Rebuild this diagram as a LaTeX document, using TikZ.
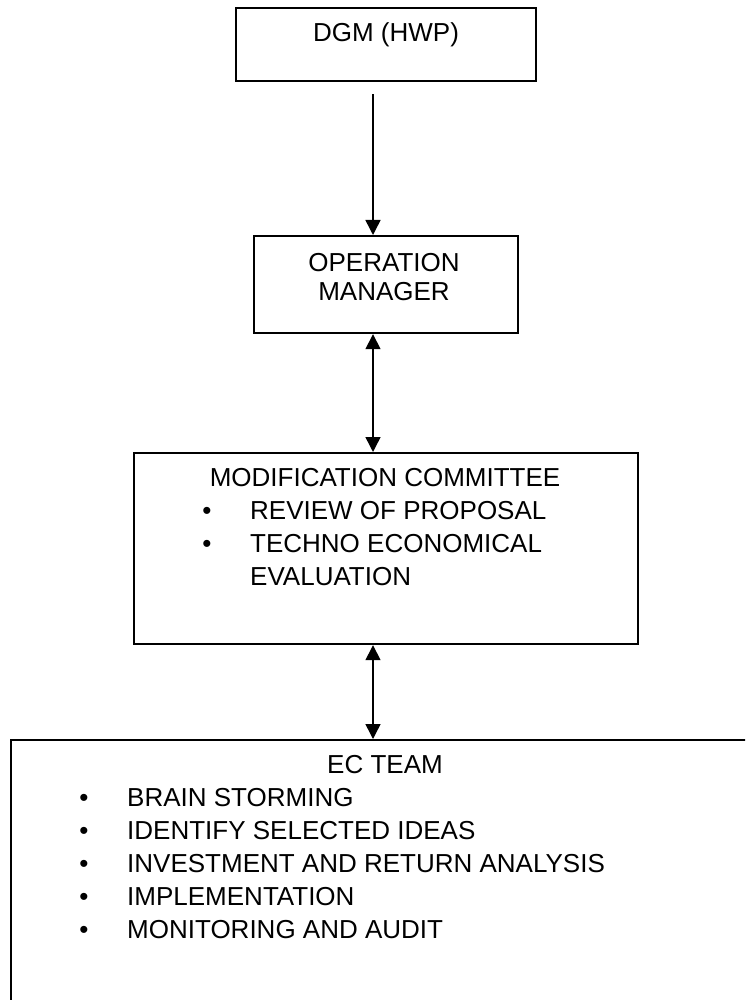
\documentclass[tikz,border=0pt]{standalone}
\usepackage{fontspec}
\setmainfont{Liberation Sans}
\usetikzlibrary{arrows.meta,positioning}
\tikzset{
    box/.style={draw=black, line width=2.2pt, inner sep=0pt, anchor=north west},
    boxtext/.style={anchor=base, inner sep=0pt, font=\fontsize{26}{33}\selectfont},
    itemtext/.style={anchor=base west, inner sep=0pt, font=\fontsize{26}{33}\selectfont},
    dot/.style={anchor=base, inner sep=0pt, font=\fontsize{26}{33}\selectfont},
    link/.style={line width=1.5pt, -{Triangle[length=15pt,width=15pt]}},
    twolink/.style={line width=1.5pt, {Triangle[length=15pt,width=15pt]}-{Triangle[length=15pt,width=15pt]}}
}
\begin{document}
\begin{tikzpicture}[x=1pt,y=-1pt]
	\useasboundingbox (0,0) rectangle (745,1000);
	\clip (0,0) rectangle (745,1000);
	\coordinate (spine) at (373,0);
	% boxes
	\node[box, minimum width=300, minimum height=73] (dgm) at (235,7) {};
	\node[box, minimum width=264, minimum height=97] (op) at (253,235) {};
	\node[box, minimum width=504, minimum height=191] (mod) at (133,452) {};
	\node[box, minimum width=760, minimum height=300] (ec) at (10,739) {};
	% texts
	\node[boxtext] (dgmtext) at (386,42) {DGM (HWP)};
	\node[boxtext] (optext1) at (384,271) {OPERATION};
	\node[boxtext] (optext2) at (384,300) {MANAGER};
	\node[boxtext] (modtitle) at (385,486) {MODIFICATION COMMITTEE};
	\node[dot] (moddot1) at (207,519) {•};
	\node[itemtext] (moditem1) at (250,519) {REVIEW OF PROPOSAL};
	\node[dot] (moddot2) at (207,552) {•};
	\node[itemtext] (moditem2) at (250,552) {TECHNO ECONOMICAL};
	\node[itemtext] (moditem3) at (250,585) {EVALUATION};
	\node[boxtext] (ectitle) at (385,773) {EC TEAM};
	\node[dot] (ecdot1) at (84,806) {•};
	\node[itemtext] (ecitem1) at (127,806) {BRAIN STORMING};
	\node[dot] (ecdot2) at (84,839) {•};
	\node[itemtext] (ecitem2) at (127,839) {IDENTIFY SELECTED IDEAS};
	\node[dot] (ecdot3) at (84,872) {•};
	\node[itemtext] (ecitem3) at (127,872) {INVESTMENT AND RETURN ANALYSIS};
	\node[dot] (ecdot4) at (84,905) {•};
	\node[itemtext] (ecitem4) at (127,905) {IMPLEMENTATION};
	\node[dot] (ecdot5) at (84,938) {•};
	\node[itemtext] (ecitem5) at (127,938) {MONITORING AND AUDIT};
	% arrows
	\draw[link] ([yshift=-12pt]dgm.south -| spine) -- (op.north -| spine);
	\draw[twolink] (op.south -| spine) -- (mod.north -| spine);
	\draw[twolink] (mod.south -| spine) -- (ec.north -| spine);
\end{tikzpicture}
\end{document}
